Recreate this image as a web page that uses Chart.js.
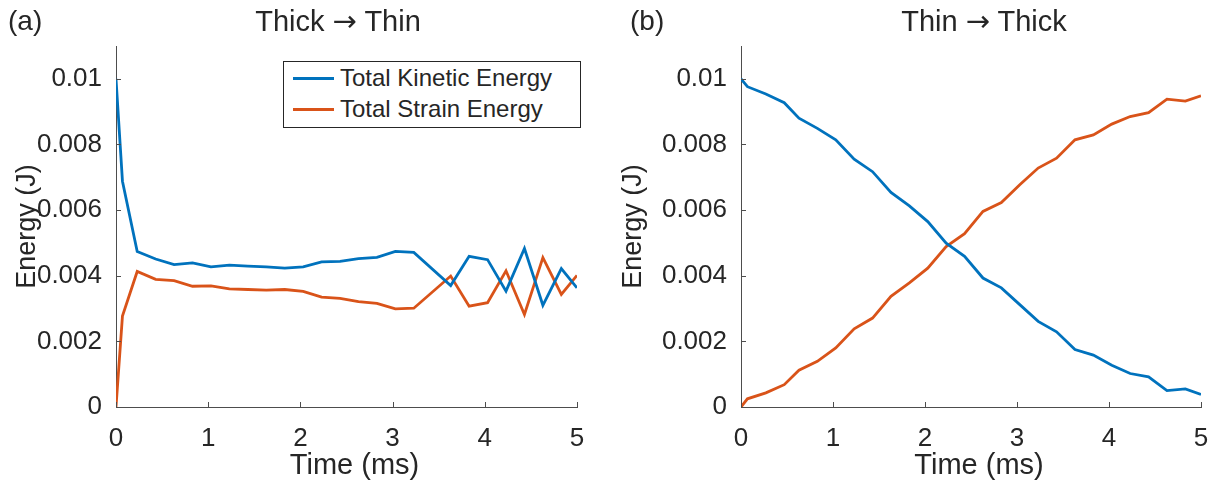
<!DOCTYPE html>
<html>
<head>
<meta charset="utf-8">
<script src="https://cdn.jsdelivr.net/npm/chart.js@4"></script>
<style>
  body { margin: 0; background: #fff; }
  #fig { position: relative; width: 1212px; height: 481px; overflow: hidden; font-family: "Liberation Sans", Arial, sans-serif; color: #262626; }
  .panel { position: absolute; top: 0; width: 606px; height: 481px; }
  .lbl { position: absolute; top: 4px; height: 34px; line-height: 34px; font-size: 28px; white-space: nowrap; }
  .title { transform: translateX(-50%); font-size: 29px; }
  .arrow { font-family: "DejaVu Sans"; }
  .legend { position: absolute; left: 283px; top: 61px; width: 296px; height: 65px; border: 1px solid #262626; background: #fff; font-size: 24px; }
  .row { position: absolute; left: 0; height: 28px; line-height: 28px; }
  .swatch { position: absolute; left: 9px; top: 13px; width: 41px; height: 3px; }
  .txt { position: absolute; left: 56px; top: 0; white-space: nowrap; }
</style>
</head>
<body>
<div id="fig">
  <div class="panel" style="left:0"><canvas id="chartA" width="606" height="481"></canvas></div>
  <div class="panel" style="left:606px"><canvas id="chartB" width="606" height="481"></canvas></div>
  <div class="lbl" style="left:8px">(a)</div>
  <div class="lbl title" style="left:338px">Thick <span class="arrow">→</span> Thin</div>
  <div class="lbl" style="left:630px">(b)</div>
  <div class="lbl title" style="left:984px">Thin <span class="arrow">→</span> Thick</div>
  <div class="legend">
    <div class="row" style="top:2px"><span class="swatch" style="background:#0072BD"></span><span class="txt">Total Kinetic Energy</span></div>
    <div class="row" style="top:33px"><span class="swatch" style="background:#D95319"></span><span class="txt">Total Strain Energy</span></div>
  </div>
</div>
<script>
// values (time in ms, energy in J)
const timeA = [0, 0.07, 0.23, 0.43, 0.63, 0.83, 1.03, 1.23, 1.43, 1.63, 1.83, 2.03, 2.23, 2.43, 2.63, 2.83, 3.03, 3.23, 3.63, 3.83, 4.03, 4.23, 4.43, 4.63, 4.83, 5.0];
const kineticA = [0.01, 0.00688, 0.00474, 0.00451, 0.00434, 0.00439, 0.00427, 0.00432, 0.00429, 0.00427, 0.00423, 0.00427, 0.00442, 0.00444, 0.00452, 0.00456, 0.00474, 0.00471, 0.0037, 0.00459, 0.00449, 0.00353, 0.00483, 0.0031, 0.00422, 0.00363];
const strainA = [0, 0.00277, 0.00413, 0.00389, 0.00385, 0.00368, 0.00369, 0.0036, 0.00358, 0.00356, 0.00358, 0.00352, 0.00335, 0.00331, 0.00321, 0.00316, 0.00299, 0.00301, 0.00399, 0.00307, 0.00318, 0.00415, 0.00282, 0.00455, 0.00343, 0.00401];

const timeB = [0, 0.07, 0.27, 0.47, 0.63, 0.83, 1.03, 1.23, 1.43, 1.63, 1.83, 2.03, 2.23, 2.43, 2.63, 2.83, 3.03, 3.23, 3.43, 3.63, 3.83, 4.03, 4.23, 4.43, 4.63, 4.83, 5.0];
const kineticB = [0.01, 0.00976, 0.00954, 0.00927, 0.0088, 0.00849, 0.00814, 0.00755, 0.00717, 0.00654, 0.00613, 0.00565, 0.00499, 0.00459, 0.00393, 0.00363, 0.00312, 0.00261, 0.00229, 0.00175, 0.00158, 0.00127, 0.00102, 0.00092, 0.0005, 0.00055, 0.00038];
const strainB = [0, 0.00025, 0.00043, 0.00068, 0.00112, 0.00139, 0.0018, 0.00238, 0.00271, 0.00337, 0.00378, 0.00423, 0.00489, 0.00528, 0.00596, 0.00623, 0.00677, 0.00728, 0.00758, 0.00814, 0.00829, 0.00862, 0.00885, 0.00897, 0.00938, 0.00932, 0.00948];

const xTicks = [0, 1, 2, 3, 4, 5];
const yTicks = [0, 0.002, 0.004, 0.006, 0.008, 0.01];
const yTickLabels = ['0', '0.002', '0.004', '0.006', '0.008', '0.01'];

const BLUE = '#0072BD', ORANGE = '#D95319', INK = '#262626', AXIS = '#4d4d4d';
const FONT = 'Liberation Sans';

const pts = (xs, ys) => xs.map((x, i) => ({ x, y: ys[i] }));

// MATLAB-style ticks pointing into the plot area
const inwardTicks = {
  id: 'inwardTicks',
  afterDraw(chart) {
    const { ctx, chartArea: a, scales: { x, y } } = chart;
    ctx.save();
    ctx.strokeStyle = AXIS;
    ctx.lineWidth = 1;
    ctx.beginPath();
    x.ticks.forEach(t => {
      const px = Math.round(x.getPixelForValue(t.value)) + 0.5;
      ctx.moveTo(px, a.bottom); ctx.lineTo(px, a.bottom - 5);
    });
    y.ticks.forEach(t => {
      const py = Math.round(y.getPixelForValue(t.value)) + 0.5;
      ctx.moveTo(a.left, py); ctx.lineTo(a.left + 5, py);
    });
    ctx.stroke();
    ctx.restore();
  },
};

function makeChart(id, time, kinetic, strain, axisWidth, rightPad) {
  return new Chart(document.getElementById(id), {
    type: 'line',
    data: {
      datasets: [
        { label: 'Total Kinetic Energy', data: pts(time, kinetic), borderColor: BLUE, borderWidth: 2.8 },
        { label: 'Total Strain Energy', data: pts(time, strain), borderColor: ORANGE, borderWidth: 2.8 },
      ],
    },
    options: {
      responsive: false,
      animation: false,
      elements: { point: { radius: 0 }, line: { tension: 0, fill: false } },
      layout: { padding: { left: 0, right: rightPad, top: 46, bottom: 0 } },
      plugins: { legend: { display: false }, tooltip: { enabled: false } },
      scales: {
        x: {
          type: 'linear', min: 0, max: 5,
          afterBuildTicks: s => { s.ticks = xTicks.map(v => ({ value: v })); },
          ticks: { color: INK, font: { family: FONT, size: 26 }, padding: 16, maxRotation: 0, callback: v => String(v) },
          grid: { display: false, drawTicks: false },
          border: { color: AXIS, width: 1 },
          // leading spaces nudge the centred label a few px right, as in the original
          title: { display: true, text: '  Time (ms)', color: INK, font: { family: FONT, size: 29 }, padding: { top: 0, bottom: -2 } },
          afterFit: s => { s.height = 74; s.paddingLeft = 0; s.paddingRight = 0; },
        },
        y: {
          min: 0, max: 0.011,
          afterBuildTicks: s => { s.ticks = yTicks.map(v => ({ value: v })); },
          ticks: { color: INK, font: { family: FONT, size: 26 }, padding: 14, callback: (v, i) => yTickLabels[i] },
          grid: { display: false, drawTicks: false },
          border: { color: AXIS, width: 1 },
          title: { display: true, text: 'Energy (J)', color: INK, font: { family: FONT, size: 27 }, padding: 11 },
          afterFit: s => { s.width = axisWidth; s.paddingTop = 0; s.paddingBottom = 0; },
        },
      },
    },
    plugins: [inwardTicks],
  });
}

makeChart('chartA', timeA, kineticA, strainA, 116, 29);
makeChart('chartB', timeB, kineticB, strainB, 135, 11);
</script>
</body>
</html>
